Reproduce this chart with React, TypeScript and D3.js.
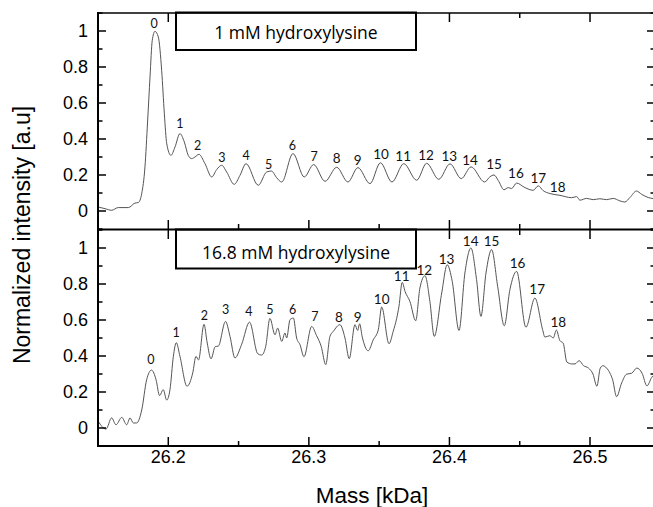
import React from 'react';
import * as d3 from 'd3';

// ---- data ----
const massTop = [
  26.1502, 26.155, 26.1597, 26.1644, 26.1716, 26.1763, 26.1787, 26.1811, 26.1834, 26.1853,
  26.187, 26.1886, 26.1905, 26.1929, 26.1953, 26.1972, 26.1989, 26.2019, 26.2048, 26.2083,
  26.2114, 26.2142, 26.2166, 26.219, 26.2218, 26.2261, 26.2309, 26.2344, 26.238, 26.2415,
  26.2469, 26.251, 26.2553, 26.264, 26.27, 26.2734, 26.2771, 26.2807, 26.2887, 26.2967,
  26.3034, 26.3115, 26.3198, 26.3278, 26.3349, 26.3435, 26.3509, 26.3591, 26.3675, 26.3767,
  26.3838, 26.3924, 26.4004, 26.4084, 26.4154, 26.425, 26.4288, 26.4317, 26.4347, 26.4388,
  26.4418, 26.4442, 26.4478, 26.4537, 26.4596, 26.4632, 26.4667, 26.4715, 26.4786, 26.4869,
  26.4905, 26.4928, 26.4976, 26.5023, 26.507, 26.5118, 26.5165, 26.5213, 26.5248, 26.5284,
  26.533, 26.5367, 26.5414, 26.5449,
];
const intensityTop = [
  0.022, 0.013, 0.004, 0.019, 0.019, 0.044, 0.047, 0.097, 0.244, 0.5,
  0.744, 0.948, 0.998, 0.967, 0.78, 0.54, 0.374, 0.309, 0.356, 0.43,
  0.383, 0.309, 0.291, 0.3, 0.315, 0.263, 0.189, 0.23, 0.254, 0.217,
  0.148, 0.198, 0.263, 0.143, 0.217, 0.222, 0.185, 0.161, 0.319, 0.189,
  0.258, 0.165, 0.243, 0.161, 0.241, 0.152, 0.268, 0.161, 0.263, 0.171,
  0.265, 0.176, 0.262, 0.18, 0.245, 0.161, 0.19, 0.2, 0.17, 0.118,
  0.13, 0.125, 0.155, 0.13, 0.115, 0.14, 0.113, 0.097, 0.087, 0.074,
  0.08, 0.06, 0.07, 0.063, 0.068, 0.063, 0.07, 0.056, 0.05, 0.075,
  0.111, 0.093, 0.075, 0.069,
];
const massBottom = [
  26.1502, 26.1557, 26.1597, 26.1628, 26.1669, 26.1704, 26.1728, 26.1751, 26.1775, 26.1811,
  26.1846, 26.1881, 26.1913, 26.1938, 26.1964, 26.1989, 26.2012, 26.2036, 26.2057, 26.2083,
  26.2133, 26.2174, 26.2197, 26.2215, 26.2254, 26.2277, 26.2304, 26.2334, 26.2356, 26.2407,
  26.2439, 26.2474, 26.2522, 26.2578, 26.2636, 26.2664, 26.2693, 26.2723, 26.2759, 26.2778,
  26.2807, 26.283, 26.2842, 26.2866, 26.289, 26.2913, 26.2937, 26.2965, 26.302, 26.3055,
  26.3088, 26.312, 26.315, 26.3174, 26.3221, 26.3257, 26.3287, 26.3328, 26.3347, 26.3361,
  26.338, 26.3422, 26.3458, 26.3494, 26.3518, 26.357, 26.36, 26.3624, 26.3641, 26.3664,
  26.3684, 26.3719, 26.376, 26.379, 26.3826, 26.3861, 26.3892, 26.3945, 26.3984, 26.402,
  26.4068, 26.411, 26.4153, 26.4193, 26.4224, 26.426, 26.43, 26.4343, 26.439, 26.443,
  26.4478, 26.4544, 26.4608, 26.4663, 26.4679, 26.4715, 26.4738, 26.4761, 26.4786, 26.4809,
  26.4835, 26.4869, 26.4893, 26.4923, 26.4953, 26.4989, 26.5021, 26.5049, 26.5073, 26.5092,
  26.5118, 26.5142, 26.5161, 26.5189, 26.5225, 26.526, 26.5296, 26.5333, 26.537, 26.5405,
  26.5438, 26.5447,
];
const intensityBottom = [
  0.037, -0.006, 0.056, 0.018, 0.059, 0.018, 0.056, 0.028, 0.028, 0.1,
  0.268, 0.322, 0.268, 0.18, 0.213, 0.155, 0.213, 0.398, 0.474, 0.398,
  0.232, 0.306, 0.398, 0.378, 0.576, 0.472, 0.384, 0.452, 0.455, 0.592,
  0.509, 0.389, 0.465, 0.588, 0.413, 0.405, 0.453, 0.609, 0.518, 0.555,
  0.481, 0.528, 0.5, 0.602, 0.611, 0.5, 0.463, 0.396, 0.564, 0.513,
  0.453, 0.352, 0.509, 0.537, 0.574, 0.5, 0.385, 0.574, 0.542, 0.579,
  0.505, 0.429, 0.49, 0.546, 0.672, 0.468, 0.537, 0.607, 0.676, 0.809,
  0.759, 0.703, 0.596, 0.778, 0.846, 0.703, 0.509, 0.75, 0.907, 0.814,
  0.542, 0.861, 1.0, 0.824, 0.62, 0.861, 0.991, 0.787, 0.568, 0.768,
  0.87, 0.56, 0.722, 0.546, 0.505, 0.513, 0.5, 0.544, 0.485, 0.472,
  0.367, 0.356, 0.356, 0.374, 0.347, 0.333, 0.3, 0.232, 0.333, 0.346,
  0.333, 0.305, 0.268, 0.174, 0.25, 0.299, 0.304, 0.333, 0.305, 0.234,
  0.28, 0.29,
];

const peakNames = ['0', '1', '2', '3', '4', '5', '6', '7', '8', '9', '10', '11', '12', '13', '14', '15', '16', '17', '18'];
const peakMassTop = [
  26.1899, 26.2083, 26.2209, 26.2382, 26.2553, 26.2714, 26.2882, 26.3038, 26.3198, 26.3347,
  26.3513, 26.3671, 26.3833, 26.3999, 26.4146, 26.4317, 26.4473, 26.4632, 26.477,
];
const peakLabelYTop = [
  1.043, 0.486, 0.361, 0.297, 0.306, 0.259, 0.361, 0.3, 0.291, 0.282,
  0.313, 0.304, 0.309, 0.306, 0.282, 0.258, 0.208, 0.18, 0.13,
];
const peakMassBottom = [
  26.1877, 26.2055, 26.2256, 26.2408, 26.2574, 26.2723, 26.2885, 26.3043, 26.3214, 26.3347,
  26.3518, 26.366, 26.3821, 26.398, 26.4151, 26.43, 26.4485, 26.4624, 26.4774,
];
const peakLabelYBottom = [
  0.379, 0.531, 0.624, 0.657, 0.648, 0.657, 0.657, 0.62, 0.617, 0.617,
  0.713, 0.842, 0.879, 0.939, 1.037, 1.037, 0.917, 0.768, 0.587,
];

const yMajor = [0, 0.2, 0.4, 0.6, 0.8, 1];
const yMinor = [-0.1, 0.1, 0.3, 0.5, 0.7, 0.9, 1.1];
const xMajor = [26.2, 26.3, 26.4, 26.5];
const xMinor = [26.15, 26.25, 26.35, 26.45, 26.55];
const panelTitles = ['1 mM hydroxylysine', '16.8 mM hydroxylysine'];
const xTitle = 'Mass [kDa]';
const yTitle = 'Normalized intensity [a.u]';

// ---- layout ----
const W = 653;
const H = 507;
const left = 98;
const right = 655;
const xScale = d3.scaleLinear().domain([26.15, 26.55]).range([98, 660.3]);
const yTop = d3.scaleLinear().domain([-0.1, 1.1]).range([229, 13]);
const yBot = d3.scaleLinear().domain([-0.1, 1.1]).range([446, 230]);

const axisFont = '"Liberation Sans", Arial, sans-serif';
const labelFont = 'Lato, "Open Sans", sans-serif';
const boxFont = '"Open Sans", Lato, sans-serif';

function Panel({ y, mass, inten, pm, py, title, isTop }: any) {
  const line = d3
    .line<number>()
    .x((_, i) => xScale(mass[i]))
    .y((v) => y(v))
    .curve(d3.curveMonotoneX);
  const [yb, yt] = y.range();
  const clipId = isTop ? 'clipTop' : 'clipBot';
  return (
    <g>
      <defs>
        <clipPath id={clipId}>
          <rect x={left} y={yt} width={right - left} height={yb - yt} />
        </clipPath>
      </defs>
      <path d={line(inten) || ''} fill="none" stroke="#555" strokeWidth={1} clipPath={`url(#${clipId})`} />
      {/* y ticks left & right */}
      {yMajor.map((t) => (
        <g key={'M' + t}>
          <line x1={left} x2={left + 8} y1={y(t)} y2={y(t)} stroke="#000" strokeWidth={1.5} />
          <line x1={right - 8} x2={right} y1={y(t)} y2={y(t)} stroke="#000" strokeWidth={1.5} />
          <text x={88} y={y(t)} dy="0.36em" textAnchor="end" fontFamily={axisFont} fontSize={18} fill="#000">
            {d3.format('~g')(t)}
          </text>
        </g>
      ))}
      {yMinor.map((t) => (
        <g key={'m' + t}>
          <line x1={left} x2={left + 4.5} y1={y(t)} y2={y(t)} stroke="#000" strokeWidth={1.5} />
          <line x1={right - 4.5} x2={right} y1={y(t)} y2={y(t)} stroke="#000" strokeWidth={1.5} />
        </g>
      ))}
      {/* x ticks top & bottom, inward */}
      {xMajor.map((t) => (
        <g key={'xM' + t}>
          <line x1={xScale(t)} x2={xScale(t)} y1={yt} y2={yt + 9} stroke="#000" strokeWidth={1.5} />
          <line x1={xScale(t)} x2={xScale(t)} y1={yb} y2={yb - 9} stroke="#000" strokeWidth={1.5} />
        </g>
      ))}
      {xMinor.map((t) => (
        <g key={'xm' + t}>
          <line x1={xScale(t)} x2={xScale(t)} y1={yt} y2={yt + 5} stroke="#000" strokeWidth={1.5} />
          <line x1={xScale(t)} x2={xScale(t)} y1={yb} y2={yb - 5} stroke="#000" strokeWidth={1.5} />
        </g>
      ))}
      {/* peak labels */}
      {peakNames.map((n, i) => (
        <text
          key={'p' + n}
          x={xScale(pm[i])}
          y={y(py[i])}
          dy="0.35em"
          textAnchor="middle"
          fontFamily={labelFont}
          fontSize={i < 8 ? 12.5 : 13.5}
          fill="#111"
        >
          {n}
        </text>
      ))}
      {/* title box */}
      <rect x={176} y={yt - 0.5} width={240} height={isTop ? 37.5 : 39} fill="#fff" stroke="#000" strokeWidth={2} />
      <text x={296} y={isTop ? 38.5 : 258.5} textAnchor="middle" fontFamily={boxFont} fontSize={17.5} fill="#000">
        {title}
      </text>
    </g>
  );
}

export default function App() {
  return (
    <svg width={W} height={H} style={{ position: 'absolute', left: 0, top: 0, background: '#fff' }}>
      <rect x={0} y={0} width={W} height={H} fill="#fff" />
      <Panel y={yTop} mass={massTop} inten={intensityTop} pm={peakMassTop} py={peakLabelYTop} title={panelTitles[0]} isTop />
      <Panel y={yBot} mass={massBottom} inten={intensityBottom} pm={peakMassBottom} py={peakLabelYBottom} title={panelTitles[1]} isTop={false} />
      {/* frame */}
      <line x1={left} x2={left} y1={12} y2={447} stroke="#000" strokeWidth={2} />
      <line x1={left} x2={right} y1={13} y2={13} stroke="#000" strokeWidth={1.5} />
      <line x1={left} x2={right} y1={229.5} y2={229.5} stroke="#000" strokeWidth={2} />
      <line x1={left - 1} x2={right} y1={446} y2={446} stroke="#000" strokeWidth={2} />
      {/* x tick labels */}
      {xMajor.map((t) => (
        <text key={'xl' + t} x={xScale(t)} y={463} textAnchor="middle" fontFamily={axisFont} fontSize={18} fill="#000">
          {d3.format('.1f')(t)}
        </text>
      ))}
      <text x={372} y={503} textAnchor="middle" fontFamily={axisFont} fontSize={22.5} fill="#000">
        {xTitle}
      </text>
      <text transform="translate(29.5,235) rotate(-90)" textAnchor="middle" fontFamily={axisFont} fontSize={23} fill="#000">
        {yTitle}
      </text>
    </svg>
  );
}
